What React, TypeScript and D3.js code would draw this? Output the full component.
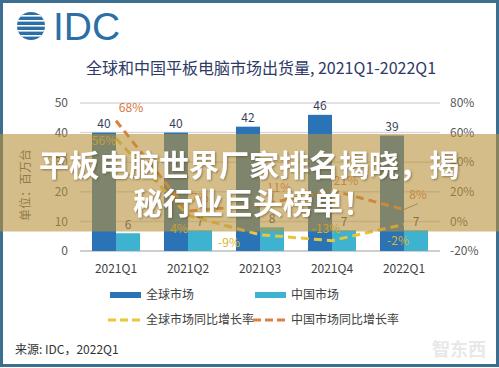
import React from 'react'
import * as d3 from 'd3'

const quarters = ['2021Q1', '2021Q2', '2021Q3', '2021Q4', '2022Q1']
const globalShip = [40, 40, 42, 46, 39]
const chinaShip = [6, 7, 8, 7, 7]
const globalYoY = [56, 4, -9, -13, -2]
const chinaYoY = [68, 7, 11, 21, 8]
const leftTicks = [0, 10, 20, 30, 40, 50]
const rightTicks = [-20, 0, 20, 40, 60, 80]

// where each growth label sits relative to its point
const globalLabelShift = [[-12, 2], [-9, 13], [-31, 8], [-6, -12], [-6, 16]]
const chinaLabelShift = [[15, -13], [12, -13], [19, -17], [14, -10], [14, -15]]

const W = 499
const H = 368
const font = '"Noto Sans CJK SC", "Noto Sans", sans-serif'
const cGlobal = '#2a73b6'
const cChina = '#3db3cf'
const cYellow = '#e8c53a'
const cOrange = '#e0803a'

export default function App() {
  const x = d3.scaleBand().domain(quarters).range([80, 440]).paddingInner(1 / 3).paddingOuter(1 / 6)
  const x1 = d3.scaleBand().domain(['g', 'c']).range([0, x.bandwidth()])
  const yL = d3.scaleLinear().domain([0, 50]).range([251, 103])
  const yR = d3.scaleLinear().domain([-20, 80]).range([251, 103])
  const cx = (q: string) => (x(q) as number) + x.bandwidth() / 2

  const line = d3
    .line<number>()
    .x((_, i) => cx(quarters[i]))
    .y(d => yR(d))

  return (
    <svg width={W} height={H} style={{ position: 'absolute', left: 0, top: 0, background: '#fff' }} fontFamily={font}>
      <defs>
        <filter id="sh" x="-10%" y="-30%" width="120%" height="160%">
          <feDropShadow dx="1" dy="1" stdDeviation="1" floodColor="#5a4620" floodOpacity="0.6" />
        </filter>
        <clipPath id="globe">
          <circle cx={31} cy={26} r={14} />
        </clipPath>
      </defs>

      {/* IDC logo */}
      <g clipPath="url(#globe)">
        <rect x={15} y={10} width={34} height={34} fill="#2b6fa6" />
        {d3.range(5).map(i => (
          <rect key={i} x={14} y={15 + i * 5} width={34} height={1.6} fill="#fff" />
        ))}
      </g>
      <text x={53} y={40} fontSize={39} fill="#2b6fa6" fontFamily="Liberation Sans, Arial, sans-serif">
        IDC
      </text>

      <text x={261} y={74} fontSize={16} fill="#2d3a66" textAnchor="middle">
        全球和中国平板电脑市场出货量, 2021Q1-2022Q1
      </text>

      {/* grid + axes */}
      {leftTicks.map(t => (
        <g key={t}>
          <line x1={80} x2={440} y1={yL(t)} y2={yL(t)} stroke={t === 0 ? '#bfbfbf' : '#d9d9d9'} strokeWidth={1.5} />
          <text x={68} y={yL(t)} dy="0.35em" fontSize={12} fill="#595959" textAnchor="end">
            {t}
          </text>
        </g>
      ))}
      {rightTicks.map(t => (
        <text key={t} x={450} y={yR(t)} dy="0.35em" fontSize={12} fill="#595959">
          {t}%
        </text>
      ))}
      <text transform="translate(30,185) rotate(-90)" fontSize={12} fill="#595959" textAnchor="middle">
        单位：百万台
      </text>
      {quarters.map(q => (
        <text key={q} x={cx(q)} y={273} fontSize={12} fill="#404040" textAnchor="middle">
          {q}
        </text>
      ))}

      {/* bars */}
      {quarters.map((q, i) => {
        const gx = (x(q) as number) + (x1('g') as number)
        const chx = (x(q) as number) + (x1('c') as number)
        const bw = x1.bandwidth()
        return (
          <g key={q}>
            <rect x={gx} y={yL(globalShip[i])} width={bw} height={yL(0) - yL(globalShip[i])} fill={cGlobal} />
            <rect x={chx} y={yL(chinaShip[i])} width={bw} height={yL(0) - yL(chinaShip[i])} fill={cChina} />
            <text x={gx + bw / 2} y={yL(globalShip[i]) - 5} fontSize={12} fill="#3a3f5c" textAnchor="middle">
              {globalShip[i]}
            </text>
            <text x={chx + bw / 2} y={yL(chinaShip[i]) - 4} fontSize={12} fill="#3a3f5c" textAnchor="middle">
              {chinaShip[i]}
            </text>
          </g>
        )
      })}

      {/* growth lines */}
      <path d={line(globalYoY) as string} fill="none" stroke={cYellow} strokeWidth={3} strokeDasharray="8 5" />
      <path d={line(chinaYoY) as string} fill="none" stroke={cOrange} strokeWidth={3} strokeDasharray="8 5" />
      {globalYoY.map((v, i) => (
        <text
          key={'g' + i}
          x={cx(quarters[i]) + globalLabelShift[i][0]}
          y={yR(v) + globalLabelShift[i][1]}
          dy="0.35em"
          fontSize={12}
          fill="#d9b52c"
          textAnchor="middle"
        >
          {v}%
        </text>
      ))}
      {chinaYoY.map((v, i) => (
        <text
          key={'c' + i}
          x={cx(quarters[i]) + chinaLabelShift[i][0]}
          y={yR(v) + chinaLabelShift[i][1]}
          dy="0.35em"
          fontSize={12}
          fill="#d9773a"
          textAnchor="middle"
        >
          {v}%
        </text>
      ))}
      <line
        x1={cx(quarters[4])}
        y1={yR(chinaYoY[4])}
        x2={cx(quarters[4]) + 14}
        y2={yR(chinaYoY[4]) - 6}
        stroke="#666"
        strokeWidth={0.8}
      />

      {/* legend */}
      <rect x={110} y={292} width={31} height={6} fill={cGlobal} />
      <text x={146} y={299} fontSize={12} fill="#404040">全球市场</text>
      <rect x={255} y={292} width={31} height={6} fill={cChina} />
      <text x={291} y={299} fontSize={12} fill="#404040">中国市场</text>
      <line x1={108} x2={142} y1={320} y2={320} stroke={cYellow} strokeWidth={3} strokeDasharray="8 4" />
      <text x={146} y={324} fontSize={12} fill="#404040">全球市场同比增长率</text>
      <line x1={253} x2={287} y1={320} y2={320} stroke={cOrange} strokeWidth={3} strokeDasharray="8 4" />
      <text x={291} y={324} fontSize={12} fill="#404040">中国市场同比增长率</text>

      <text x={15} y={354} fontSize={12} fill="#333">来源: IDC，2022Q1</text>
      <text x={459} y={356} fontSize={18} fill="#e8e8e8" textAnchor="middle" fontWeight={700}>
        智东西
      </text>

      <rect x={1.5} y={1.5} width={W - 3} height={364} fill="none" stroke="#3b6e8f" strokeWidth={3} />

      {/* banner overlay */}
      <rect x={0} y={134} width={W} height={97.5} fill="#b9913c" opacity={0.6} />
      <g filter="url(#sh)" fill="#fff" fontSize={30} fontWeight={700} textAnchor="middle">
        <text x={249} y={176}>平板电脑世界厂家排名揭晓，揭</text>
        <text x={253} y={214}>秘行业巨头榜单！</text>
      </g>
    </svg>
  )
}
